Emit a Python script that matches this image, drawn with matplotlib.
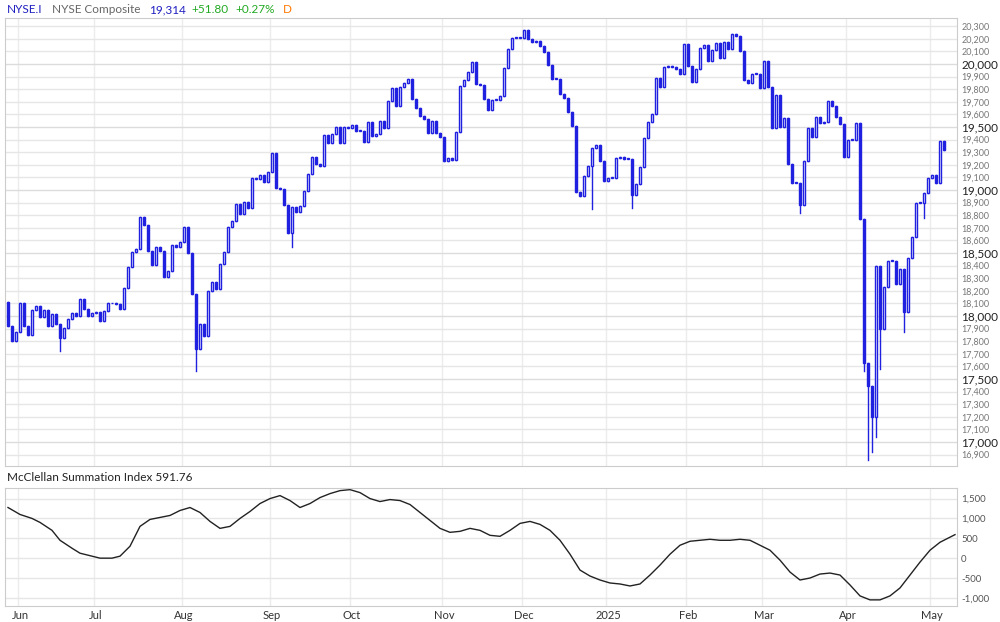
import matplotlib.pyplot as plt
import numpy as np
import pandas as pd

plt.rcParams['font.family'] = 'Lato'

# daily closes, NYSE Composite, from 2024-05-29
closes = [17920,17800,17870,18100,17920,17850,18050,18080,17990,18045,
          17920,18015,17935,17825,17905,17975,18025,18000,18135,18055,
          18000,18025,18035,17960,18040,18100,18100,18095,18055,18220,
          18390,18510,18530,18785,18720,18515,18405,18545,18515,18310,
          18355,18565,18545,18585,18710,18500,18175,17740,17935,17840,
          18200,18270,18215,18410,18505,18710,18755,18890,18810,18905,
          18860,19095,19090,19120,19065,19145,19295,19015,19005,18880,
          18660,18865,18825,18875,18995,19130,19265,19205,
          19190,19435,19370,19445,19500,19370,19500,19495,19515,19470,
          19470,19380,19540,19430,19445,19550,19490,19705,19810,19665,
          19815,19850,19880,19720,19650,19590,19565,19450,19550,19450,
          19420,19230,19250,19240,19460,19825,19870,19935,20015,19840,
          19830,19720,19635,19715,19715,19745,19970,20120,20205,20205,
          20210,20270,20200,20175,20180,20140,20095,19990,19880,19880,
          19760,19730,19620,19510,18985,18950,19110,19190,19335,19360,
          19230,19070,19095,19095,19255,
          19260,19245,19245,18960,19045,19180,19415,19540,19600,19890,
          19820,19975,19985,19975,19960,19920,20160,19985,19855,19960,
          20125,20150,20025,20110,20165,20045,20175,20120,20240,20220,
          20105,19875,19850,19920,19920,19810,20025,19820,19495,19755,
          19500,19570,19205,19055,19055,18880,19230,19490,19420,19580,
          19530,19540,19705,19665,19580,19525,19260,19395,19400,19530,
          18770,17630,17445,17200,18400,17900,18230,18440,18440,18250,
          18370,18030,18460,18630,18900,18900,18975,19095,19120,19055,
          19390,19314]
first_open = 18110
# long lower wicks (day index -> low)
low_wicks = {13: 17720, 47: 17560, 71: 18550, 146: 18850, 156: 18860, 198: 18820,
             214: 17560, 215: 16860, 216: 16920, 217: 17040, 218: 17580, 224: 17870, 229: 18780}

# McClellan Summation Index, sampled (day index, value)
msi_day = [0, 3, 6, 8, 11, 13, 16, 18, 21, 23, 26, 28, 30.5, 33, 35.5, 38, 40.5, 43, 45.5,
           48, 50.5, 53, 55.5, 58, 60.5, 63, 65.5, 68, 70.5, 73, 75.5, 78, 80.5, 83, 85.5,
           88, 90.5, 93, 95.5, 98, 100.5, 103, 105.5, 108, 110.5, 113, 115.5, 118, 120.5,
           123, 125.5, 128, 130.5, 133, 135.5, 138, 140.5, 143, 145.5, 148, 150.5, 153,
           155.5, 158, 160.5, 163, 165.5, 168, 170.5, 173, 175.5, 178, 180.5, 183, 185.5,
           188, 190.5, 193, 195.5, 198, 200.5, 203, 205.5, 208, 210.5, 213, 215.5, 218,
           220.5, 223, 225.5, 228, 230.5, 233, 236.75]
msi_val = [1275, 1100, 1000, 900, 700, 450, 250, 125, 50, 0, 0, 50, 300, 800, 975, 1025,
           1075, 1200, 1275, 1150, 925, 750, 800, 1000, 1175, 1375, 1500, 1575, 1450, 1275,
           1375, 1525, 1625, 1700, 1725, 1650, 1500, 1425, 1475, 1450, 1350, 1150, 950,
           750, 650, 675, 750, 700, 575, 550, 700, 875, 925, 850, 700, 450, 100, -300,
           -450, -550, -625, -650, -700, -650, -425, -175, 100, 325, 425, 450, 475, 450,
           450, 475, 450, 325, 200, -50, -350, -550, -500, -400, -375, -425, -675, -950,
           -1050, -1050, -950, -750, -425, -100, 200, 400, 592]

holidays = ['2024-06-19', '2024-07-04', '2024-09-02', '2024-11-28', '2024-12-25',
            '2025-01-01', '2025-01-09', '2025-01-20', '2025-02-17', '2025-04-18']
dates = pd.bdate_range('2024-05-29', periods=260, freq='C', holidays=holidays)[:len(closes)]

blue = '#2020e0'
opens = [first_open] + closes[:-1]
n = len(closes)

fig = plt.figure(figsize=(10, 6.22), dpi=100)
ax = fig.add_axes([0.005, 0.251, 0.952, 0.72])
ax2 = fig.add_axes([0.005, 0.026, 0.952, 0.19])

for i in range(n):
    o, c = opens[i], closes[i]
    lo = low_wicks.get(i, min(o, c))
    ax.plot([i, i], [lo, max(o, c)], color=blue, lw=1, zorder=2)
    if c >= o:
        ax.bar(i, max(c - o, 6), bottom=o, width=0.55, color='white', edgecolor=blue, lw=1, zorder=3)
    else:
        ax.bar(i, o - c, bottom=c, width=0.55, color=blue, edgecolor=blue, lw=1, zorder=3)

# month ticks at first trading day of each month
month_pos, month_lab = [], []
for k in range(1, n):
    if dates[k].month != dates[k - 1].month:
        month_pos.append(k)
        month_lab.append('2025' if dates[k].month == 1 else dates[k].strftime('%b'))

for a in (ax, ax2):
    a.set_xlim(-0.75, 237.25)
    for p in month_pos:
        a.axvline(p - 0.5, color='#ececec', lw=1, zorder=0)
    a.yaxis.tick_right()
    a.tick_params(axis='both', length=0, pad=3)
    for s in a.spines.values():
        s.set_color('#cccccc')
    a.set_xticks([])

ax.set_ylim(16810, 20365)
ticks = list(range(16900, 20301, 100))
ax.set_yticks(ticks)
ax.set_yticklabels([f'{t:,}' for t in ticks])
for t, lab in zip(ticks, ax.get_yticklabels()):
    if t % 500 == 0:
        lab.set_fontsize(8.5); lab.set_color('#222222')
    else:
        lab.set_fontsize(6.5); lab.set_color('#777777')
    ax.axhline(t, color='#e6e6e6' if t % 500 else '#dcdcdc', lw=1, zorder=0)

ax2.plot(msi_day, msi_val, color='#222222', lw=1)
ax2.set_ylim(-1200, 1775)
st = [-1000, -500, 0, 500, 1000, 1500]
ax2.set_yticks(st)
ax2.set_yticklabels([f'{t:,}' for t in st], fontsize=7, color='#555555')
for t in st:
    ax2.axhline(t, color='#e6e6e6', lw=1, zorder=0)
ax2.set_xticks(month_pos)
ax2.set_xticklabels(month_lab, fontsize=8, color='#333333')
ax2.tick_params(axis='x', pad=3)

fig.text(0.007, 0.984, 'NYSE.I', color='#2020c0', fontsize=8.5, va='center')
fig.text(0.052, 0.984, 'NYSE Composite', color='#666666', fontsize=8.5, va='center')
fig.text(0.149, 0.984, '19,314', color='#2020c0', fontsize=8.5, va='center')
fig.text(0.191, 0.984, '+51.80', color='#22aa22', fontsize=8.5, va='center')
fig.text(0.235, 0.984, '+0.27%', color='#22aa22', fontsize=8.5, va='center')
fig.text(0.283, 0.984, 'D', color='#ff7700', fontsize=8.5, va='center')
fig.text(0.007, 0.232, 'McClellan Summation Index 591.76', color='#222222', fontsize=8.5, va='center')

fig.savefig('out.png', dpi=100)
